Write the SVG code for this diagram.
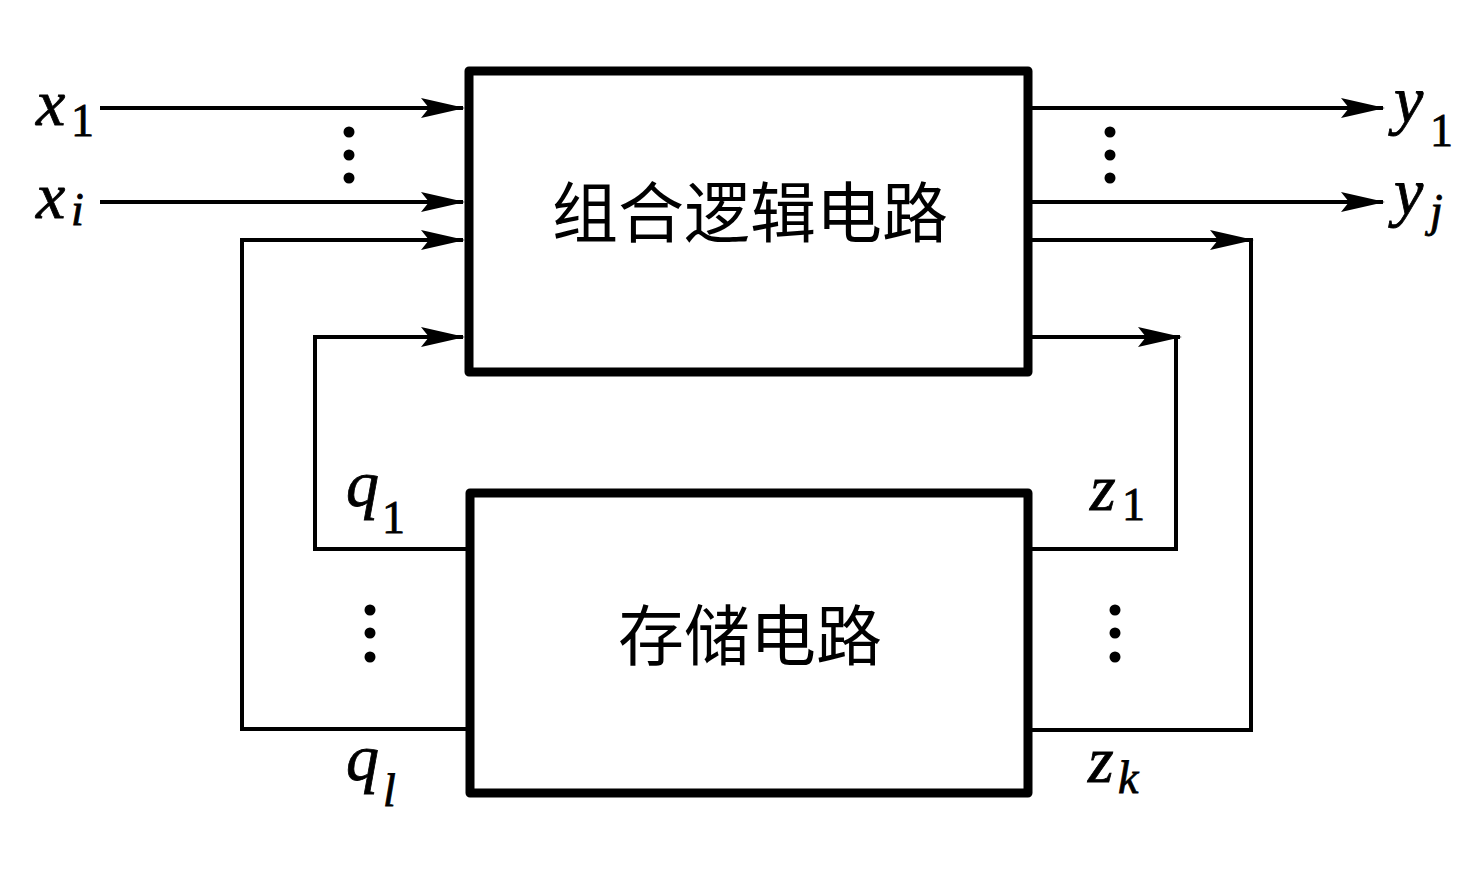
<svg xmlns="http://www.w3.org/2000/svg" width="1479" height="872" viewBox="0 0 1479 872">
<style>
.box{fill:none;stroke:#000;stroke-width:9;stroke-linejoin:round}
.w{fill:none;stroke:#000;stroke-width:4}
.a{marker-end:url(#arr)}
.lbl{font-style:italic;font-size:66px;fill:#000}
.sub{font-size:46px;fill:#000}
.subi{font-style:italic;font-size:46px;fill:#000}
.cn{font-size:66px;fill:#000;text-anchor:middle}
.dot{fill:#000}
</style>
<defs>
<marker id="arr" markerUnits="userSpaceOnUse" viewBox="-46 -12 48 24" markerWidth="48" markerHeight="24" refX="0" refY="0" orient="auto">
<path d="M2,0 L-42,-10 L-34,0 L-42,10 Z" fill="#000"/>
</marker>
</defs>
<rect width="1479" height="872" fill="#fff"/>

<g id="comb" font-family="Noto Sans CJK SC, Noto Sans CJK JP, sans-serif">
<rect class="box" x="469" y="71" width="559" height="301"/>
<text class="cn" x="750" y="237">组合逻辑电路</text>
</g>

<g id="mem" font-family="Noto Sans CJK SC, Noto Sans CJK JP, sans-serif">
<rect class="box" x="470" y="493" width="558" height="300"/>
<text class="cn" x="750" y="660">存储电路</text>
</g>

<g id="connectors">
<line class="w a" x1="100" y1="108" x2="463" y2="108"/>
<line class="w a" x1="100" y1="202" x2="463" y2="202"/>
<polyline class="w a" points="466,729 242,729 242,240 463,240"/>
<polyline class="w a" points="466,549 315,549 315,337 463,337"/>
<line class="w a" x1="1032" y1="108" x2="1383" y2="108"/>
<line class="w a" x1="1032" y1="202" x2="1383" y2="202"/>
<polyline class="w" points="1032,240 1251,240 1251,730 1032,730"/>
<line class="w a" x1="1032" y1="240" x2="1252" y2="240"/>
<polyline class="w" points="1032,337 1176,337 1176,549 1032,549"/>
<line class="w a" x1="1032" y1="337" x2="1180" y2="337"/>
</g>

<g id="dots">
<circle class="dot" cx="349" cy="132" r="5.5"/>
<circle class="dot" cx="349" cy="155" r="5.5"/>
<circle class="dot" cx="349" cy="178" r="5.5"/>
<circle class="dot" cx="1110" cy="132" r="5.5"/>
<circle class="dot" cx="1110" cy="155" r="5.5"/>
<circle class="dot" cx="1110" cy="178" r="5.5"/>
<circle class="dot" cx="370" cy="610" r="5.5"/>
<circle class="dot" cx="370" cy="633" r="5.5"/>
<circle class="dot" cx="370" cy="657" r="5.5"/>
<circle class="dot" cx="1115" cy="610" r="5.5"/>
<circle class="dot" cx="1115" cy="633" r="5.5"/>
<circle class="dot" cx="1115" cy="657" r="5.5"/>
</g>

<g id="labels" font-family="Liberation Serif, serif" stroke="#000" stroke-width="0.8">
<text class="lbl" x="36" y="125">x</text><text class="sub" x="71" y="136">1</text>
<text class="lbl" x="36" y="218">x</text><text class="subi" x="71" y="225">i</text>
<text class="lbl" x="1394" y="122">y</text><text class="sub" x="1430" y="146">1</text>
<text class="lbl" x="1394" y="214">y</text><text class="subi" x="1430" y="226">j</text>
<text class="lbl" x="346" y="506">q</text><text class="sub" x="382" y="533">1</text>
<text class="lbl" x="346" y="780">q</text><text class="subi" x="383" y="806">l</text>
<text class="lbl" x="1090" y="510">z</text><text class="sub" x="1122" y="520">1</text>
<text class="lbl" x="1088" y="782">z</text><text class="subi" x="1118" y="793">k</text>
</g>
</svg>
